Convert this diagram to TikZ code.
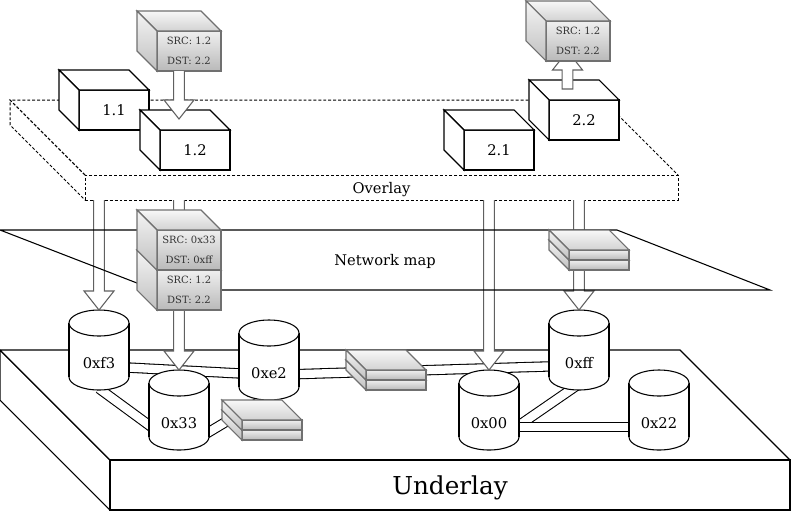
\documentclass[tikz,border=0pt]{standalone}
\usepackage{fontspec}
\setmainfont{DejaVu Serif}
\usetikzlibrary{calc}
\definecolor{pktline}{HTML}{707070}
\definecolor{arrline}{HTML}{606060}
\tikzset{
  cube/.style={draw, fill=white, line width=0.8pt, minimum width=52.5pt, minimum height=30pt, inner sep=0pt, outer sep=0pt},
  boxface/.style={draw, fill=white, line width=0.8pt},
  pkt/.style={draw=pktline, top color=gray!12, bottom color=gray!55, line width=0.8pt, minimum width=48pt, minimum height=30pt,
    inner sep=0pt, outer sep=0pt, align=center, text=black!80, font=\fontsize{7.5}{14.5}\selectfont},
  flat/.style={pkt, minimum width=45pt, minimum height=7.5pt},
  pkttop/.style={draw=pktline, line width=0.8pt, top color=gray!6, bottom color=gray!35},
  pktside/.style={draw=pktline, line width=0.8pt, top color=gray!8, bottom color=gray!50},
  hollow/.style={draw=arrline, fill=white, line width=0.8pt},
  link/.style={double=white, double distance=6.2pt, line width=0.8pt},
  cylline/.style={draw, fill=white, line width=0.8pt},
  plane/.style={draw, line width=0.8pt, inner sep=0pt, outer sep=0pt},
  dashplane/.style={draw, dashed, dash pattern=on 2.2pt off 1.5pt, line width=0.75pt, inner sep=0pt, outer sep=0pt}
}
% side and top faces of a box whose front face is node #1
\newcommand{\cubefaces}[3]{%
  \path[#2] (#1.north west) -- ++(-20,-20) -- ([shift={(-20,-20)}]#1.north east) -- (#1.north east) -- cycle;
  \path[#3] (#1.north west) -- ++(-20,-20) -- ([shift={(-20,-20)}]#1.south west) -- (#1.south west) -- cycle;}
% hollow block arrow: from #1 to the tip #2, head length #3
\newcommand{\blockarrow}[4]{%
  \draw[hollow] let \p1=(#1), \p2=(#2) in
    ({\x2-4pt},\y1) -- ({\x2-4pt},{\y2+(#3)}) -- ({\x2-11.25pt},{\y2+(#3)}) -- (\x2,\y2)
    -- ({\x2+11.25pt},{\y2+(#3)}) -- ({\x2+4pt},{\y2+(#3)}) -- ({\x2+4pt},\y1) #4;}
% router drawn as a cylinder, node #1 is its label at #2
\newcommand{\router}[3]{%
  \coordinate (#1-top) at ($#2+(0,-53)$);
  \path[cylline] ($#2+(0,14)$) ellipse [x radius=30, y radius=13];
  \fill[white] ($#2+(-30,-40)$) rectangle ($#2+(30,14)$);
  \draw[line width=0.8pt] ($#2+(-30,-40)$) -- ++(0,54) ($#2+(30,-40)$) -- ++(0,54);
  \path[cylline] ($#2+(0,-40)$) ellipse [x radius=30, y radius=13];
  \node (#1) at #2 {#3};}
\begin{document}
\begin{tikzpicture}[x=0.75pt, y=-0.75pt, font=\fontsize{11}{13}\selectfont]
  \useasboundingbox (0,0) rectangle (791,511);

  % overlay
  \node[dashplane, minimum width=444.75pt, minimum height=18.75pt, text depth=0pt] (ov) at (381.5,187.5) {Overlay};
  \path[dashplane] (ov.north west) -- ++(-75,-75) -- ([shift={(-75,-75)}]ov.north east) -- (ov.north east);
  \path[dashplane] (ov.north west) -- ++(-75,-75) -- ++(0,25) -- (ov.south west);

  % hosts of the overlay
  \node[cube] (b11) at (114,110) {1.1}; \cubefaces{b11}{boxface}{boxface}
  \node[cube] (b12) at (195,150) {1.2}; \cubefaces{b12}{boxface}{boxface}
  \node[cube] (b21) at (499,150) {2.1}; \cubefaces{b21}{boxface}{boxface}
  \node[cube] (b22) at (584,120) {2.2}; \cubefaces{b22}{boxface}{boxface}

  % packet sent and received
  \node[pkt] (p1) at (189,51) {SRC: 1.2\\DST: 2.2}; \cubefaces{p1}{pkttop}{pktside}
  \coordinate (b12in) at (179,119);
  \blockarrow{p1.south}{b12in}{14.25pt}{}
  \coordinate (b22in) at (567.5,89);
  \coordinate (p2in) at (567.5,51);
  \blockarrow{b22in}{p2in}{-14.25pt}{-- cycle}
  \node[pkt] (p2) at (578,41) {SRC: 1.2\\DST: 2.2}; \cubefaces{p2}{pkttop}{pktside}

  % underlay
  \node[plane, minimum width=510pt, minimum height=37.5pt, text depth=0pt, font=\fontsize{18.5}{20}\selectfont] (ul) at (450,485) {Underlay};
  \path[plane] (ul.north west) -- ++(-110,-110) -- ([shift={(-110,-110)}]ul.north east) -- (ul.north east);
  \path[plane] (ul.north west) -- ++(-110,-110) -- ++(0,50) -- (ul.south west);

  % links between routers
  \coordinate (f3a) at (99,366);
  \coordinate (f3b) at (99,388.5);
  \coordinate (e2a) at (269,375);
  \coordinate (e2b) at (269,396);
  \coordinate (c33a) at (172,442);
  \coordinate (c33b) at (189,444);
  \coordinate (c00a) at (489,446);
  \coordinate (c00b) at (489,426.7);
  \coordinate (cffa) at (579,365.5);
  \coordinate (cffb) at (579,384);
  \coordinate (c22a) at (659,426.7);
  \draw[link] (f3a) -- (e2a);
  \draw[link] (e2a) -- (cffa);
  \draw[link] (f3b) -- (c33a);
  \draw[link] (c33b) -- (e2b);
  \draw[link] (c00a) -- (cffb);
  \draw[link] (c00b) -- (c22a);

  % routers
  \router{f3}{(99,363)}{0xf3}
  \router{c33}{(179,423)}{0x33}
  \router{e2}{(269,373)}{0xe2}
  \router{c00}{(489,423)}{0x00}
  \router{cff}{(579,363)}{0xff}
  \router{c22}{(659,423)}{0x22}

  % packets on the links
  \node[flat] (mpb) at (396,385) {}; \cubefaces{mpb}{pkttop}{pktside}
  \node[flat] (mpa) at (396,375) {}; \cubefaces{mpa}{pkttop}{pktside}
  \node[flat] (lpb) at (272,435) {}; \cubefaces{lpb}{pkttop}{pktside}
  \node[flat] (lpa) at (272,425) {}; \cubefaces{lpa}{pkttop}{pktside}

  % mapping overlay -> underlay
  \blockarrow{ov.south -| f3}{f3-top}{14.25pt}{}
  \blockarrow{ov.south -| c33}{c33-top}{14.25pt}{}
  \blockarrow{ov.south -| c00}{c00-top}{14.25pt}{}
  \blockarrow{ov.south -| cff}{cff-top}{14.25pt}{}

  % network map
  \draw[plane] (0,230) -- (617,230) -- (770,290) -- (155,290) -- cycle;
  \node (nm) at (385,261) {Network map};
  \node[flat] (npb) at (599,265) {}; \cubefaces{npb}{pkttop}{pktside}
  \node[flat] (npa) at (599,255) {}; \cubefaces{npa}{pkttop}{pktside}
  \node[pkt] (p4) at (189,290) {SRC: 1.2\\DST: 2.2}; \cubefaces{p4}{pkttop}{pktside}
  \node[pkt] (p3) at (189,250) {SRC: 0x33\\DST: 0xff}; \cubefaces{p3}{pkttop}{pktside}
\end{tikzpicture}
\end{document}
